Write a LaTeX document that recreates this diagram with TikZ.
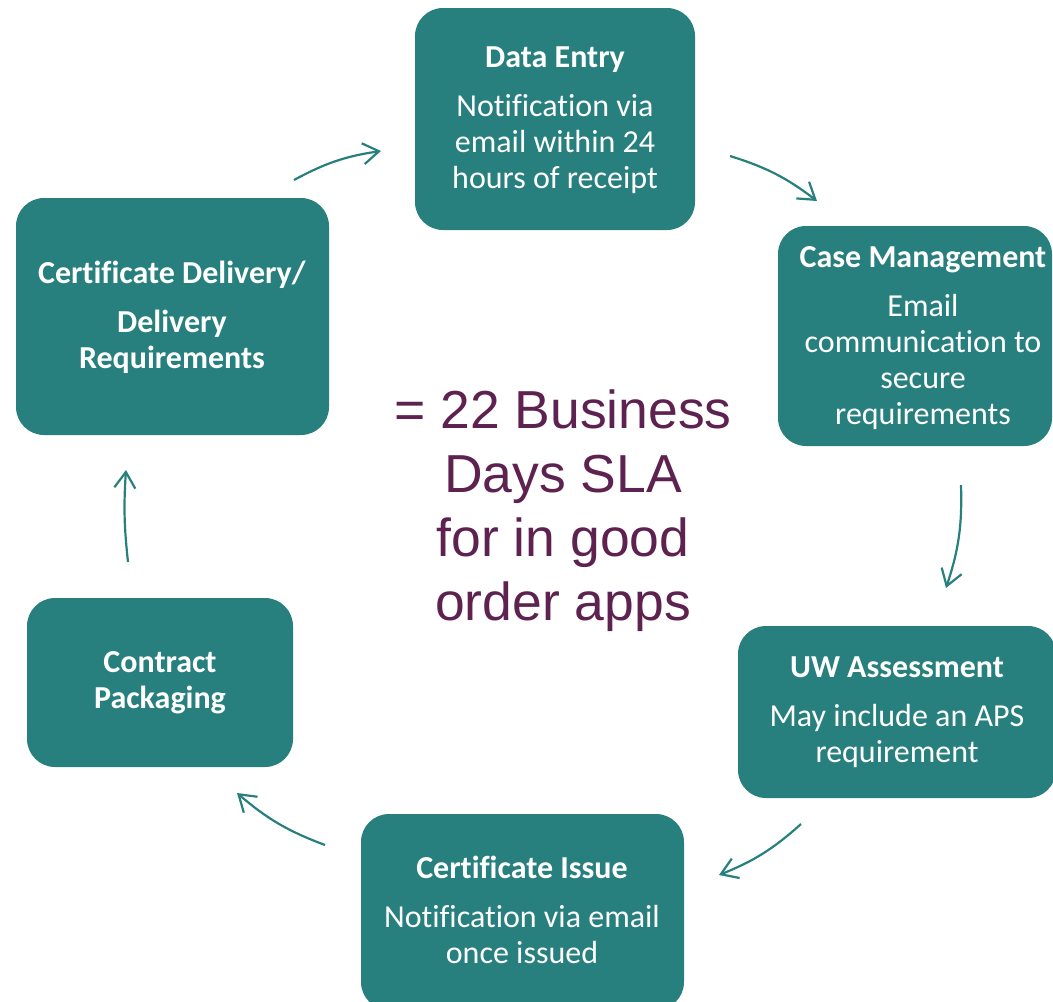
\documentclass[tikz,border=0pt]{standalone}
\usepackage{fontspec}
\setmainfont[Ligatures=NoCommon]{Carlito}
\newfontfamily\slafont{Liberation Sans}
\usetikzlibrary{arrows.meta}
\definecolor{tealbox}{RGB}{40,128,126}
\definecolor{plum}{RGB}{94,34,80}
\begin{document}
\begin{tikzpicture}[x=1pt,y=1pt,
  box/.style={fill=tealbox, rounded corners=28pt, draw=none, inner sep=0pt},
  lbl/.style={text=white, align=center, font=\fontsize{32}{36}\selectfont, inner sep=0pt},
  flow/.style={draw=tealbox, line width=2.2pt, -{Straight Barb[length=16pt,width=21pt]}}]
\useasboundingbox (0,0) rectangle (1053,-1002);
% boxes
\node[box, minimum width=280pt, minimum height=222pt] (de) at (555,-119) {};
\node[box, minimum width=274pt, minimum height=220pt] (cm) at (915,-336) {};
\node[box, minimum width=318pt, minimum height=172pt] (uw) at (897,-712) {};
\node[box, minimum width=323pt, minimum height=196pt] (ci) at (522.5,-912) {};
\node[box, minimum width=266pt, minimum height=169pt] (cp) at (160,-682.5) {};
\node[box, minimum width=313pt, minimum height=237pt] (cd) at (172.5,-316.5) {};
% labels
\node[lbl] (det) at (555,-120) {\textbf{Data Entry}\\[13pt]Notification via\\email within 24\\hours of receipt};
\node[lbl] (cmt) at (923,-338) {\textbf{Case Management}\\[13pt]Email\\communication to\\secure\\requirements};
\node[lbl] (uwt) at (897,-712) {\textbf{UW Assessment}\\[13pt]May include an APS\\requirement};
\node[lbl] (cit) at (522,-910) {\textbf{Certificate Issue}\\[13pt]Notification via email\\once issued};
\node[lbl] (cpt) at (160,-683) {\textbf{Contract}\\\textbf{Packaging}};
\node[lbl] (cdt) at (172,-317) {\textbf{Certificate Delivery/}\\[13pt]\textbf{Delivery}\\\textbf{Requirements}};
% centre text
\node[text=plum, align=center, inner sep=0pt, font=\slafont\fontsize{53.5}{64}\selectfont] (sla) at (563,-511) {= 22 Business\\Days SLA\\for in good\\order apps};
% arrow ends
\coordinate (a1s) at (294,-180); \coordinate (a1e) at (381,-151);
\coordinate (a2s) at (730,-156); \coordinate (a2e) at (817,-201);
\coordinate (a3s) at (961,-485); \coordinate (a3e) at (946,-588);
\coordinate (a4s) at (801,-824); \coordinate (a4e) at (719,-875);
\coordinate (a5s) at (325,-845); \coordinate (a5e) at (237,-793);
\coordinate (a6s) at (128,-562); \coordinate (a6e) at (126,-470);
\draw[flow] (a1s) to[bend left=10] (a1e);
\draw[flow] (a2s) to[bend left=10] (a2e);
\draw[flow] (a3s) to[bend left=10] (a3e);
\draw[flow] (a4s) to[bend left=10] (a4e);
\draw[flow] (a5s) to[bend left=10] (a5e);
\draw[flow] (a6s) to[bend left=5] (a6e);
\end{tikzpicture}
\end{document}
